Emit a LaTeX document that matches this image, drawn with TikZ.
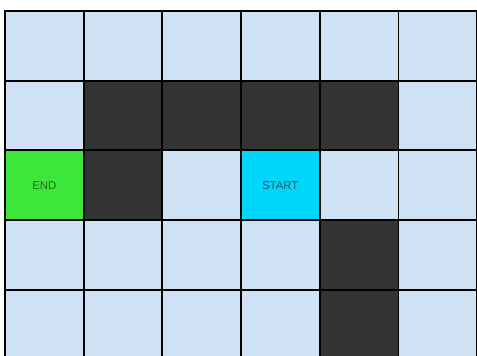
\documentclass[tikz,border=0pt]{standalone}
\usepackage{fontspec}
\setmainfont{Liberation Sans}
\definecolor{cellblue}{HTML}{CFE2F3}
\definecolor{wall}{HTML}{333333}
\definecolor{endgreen}{HTML}{3DE63A}
\definecolor{startcyan}{HTML}{00D5FA}
\definecolor{endtext}{HTML}{1E6E1E}
\definecolor{starttext}{HTML}{1C5870}
\tikzset{
  cell/.style={draw=black, line width=1.8pt, minimum width=78.7pt, minimum height=69.7pt, inner sep=0pt, anchor=north west, fill=cellblue, font=\fontsize{11.3pt}{13pt}\selectfont},
  wallcell/.style={cell, fill=wall},
  endcell/.style={cell, fill=endgreen, text=endtext},
  startcell/.style={cell, fill=startcyan, text=starttext}
}
\begin{document}
\begin{tikzpicture}[x=1pt,y=-1pt]
\useasboundingbox (0,0) rectangle (477,356);
\clip (0,0) rectangle (477,356);
\fill[white] (0,0) rectangle (477,356);
\foreach \r in {0,...,4}{
  \foreach \c in {0,...,5}{
    \node[cell] (c\r\c) at ({4+78.7*\c},{10+69.7*\r}) {};
  }
}
% walls
\foreach \c in {1,2,3,4}{ \node[wallcell] (w1\c) at ({4+78.7*\c},{10+69.7}) {}; }
\node[wallcell] (w21) at ({4+78.7},{10+69.7*2}) {};
\node[wallcell] (w34) at ({4+78.7*4},{10+69.7*3}) {};
\node[wallcell] (w44) at ({4+78.7*4},{10+69.7*4}) {};
\node[endcell] (endnode) at (4,{10+69.7*2}) {END};
\node[startcell] (startnode) at ({4+78.7*3},{10+69.7*2}) {START};
\end{tikzpicture}
\end{document}
